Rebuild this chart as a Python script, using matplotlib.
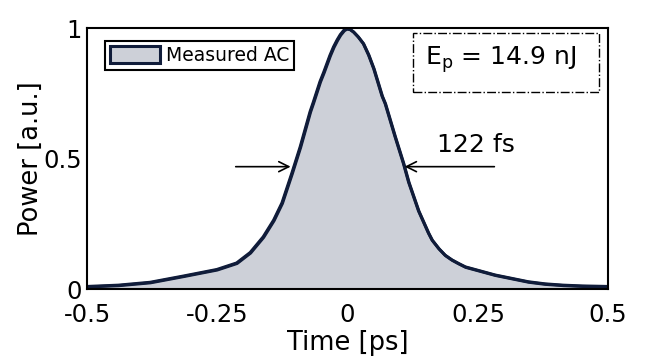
import numpy as np
import matplotlib
matplotlib.use('Agg')
import matplotlib.pyplot as plt
from matplotlib.patches import Rectangle

# Autocorrelation trace
time_ps = [-0.5, -0.44, -0.379, -0.315, -0.251, -0.213, -0.187, -0.162, -0.142,
           -0.126, -0.107, -0.091, -0.072, -0.066, -0.053, -0.046, -0.034, -0.027,
           -0.020, -0.014, -0.007, -0.002, 0.004, 0.011, 0.020, 0.030, 0.040, 0.050,
           0.066, 0.072, 0.091, 0.107, 0.117, 0.136, 0.155, 0.162, 0.175, 0.187,
           0.200, 0.213, 0.226, 0.283, 0.347, 0.379, 0.414, 0.45, 0.5]
power = [0.010, 0.015, 0.026, 0.050, 0.075, 0.100, 0.140, 0.200, 0.264,
         0.330, 0.444, 0.545, 0.680, 0.715, 0.795, 0.830, 0.895, 0.928,
         0.955, 0.975, 0.992, 0.998, 0.996, 0.986, 0.967, 0.941, 0.898, 0.845,
         0.740, 0.711, 0.584, 0.482, 0.410, 0.300, 0.215, 0.188, 0.155, 0.130,
         0.112, 0.098, 0.085, 0.054, 0.028, 0.020, 0.015, 0.012, 0.010]

x_ticks = [-0.5, -0.25, 0, 0.25, 0.5]
x_tick_labels = ['-0.5', '-0.25', '0', '0.25', '0.5']
y_ticks = [0, 0.5, 1]
y_tick_labels = ['0', '0.5', '1']

# FWHM markers
fwhm_level = 0.469
fwhm_left = -0.104
fwhm_right = 0.104
fwhm_label = '122 fs'
energy_label = r'E$_\mathregular{p}$ = 14.9 nJ'

navy = '#101c3a'
fill_col = '#cdd0d8'

plt.rcParams['font.family'] = ['DejaVu Sans']
fig = plt.figure(figsize=(6.72, 3.6), dpi=100)
ax = fig.add_axes([0.1295, 0.197, 0.7755, 0.725])

ax.fill_between(time_ps, power, 0, facecolor=fill_col, edgecolor=navy,
                linewidth=2.2, label='Measured AC')
ax.plot(time_ps, power, color=navy, linewidth=2.2, solid_joinstyle='round')

ax.annotate('', xy=(fwhm_left, fwhm_level), xytext=(-0.22, fwhm_level),
            arrowprops=dict(arrowstyle='->', color='black', lw=1.2, mutation_scale=18))
ax.annotate('', xy=(fwhm_right, fwhm_level), xytext=(0.287, fwhm_level),
            arrowprops=dict(arrowstyle='->', color='black', lw=1.2, mutation_scale=18))
ax.text(0.246, 0.525, fwhm_label, fontsize=18, ha='center', va='baseline')

# pulse energy box
ax.add_patch(Rectangle((0.625, 0.755), 0.358, 0.226, transform=ax.transAxes,
                       facecolor='white', edgecolor='black', linestyle='-.', linewidth=1.0))
ax.text(0.793, 0.858, energy_label, fontsize=18, ha='center', va='baseline',
        transform=ax.transAxes)

leg = ax.legend(loc='upper left', bbox_to_anchor=(0.0345, 0.950), borderaxespad=0,
                fontsize=13.5, fancybox=False, framealpha=1, edgecolor='black',
                handlelength=2.7, handleheight=1.0, borderpad=0.25, handletextpad=0.3)
leg.get_frame().set_linewidth(1.5)

ax.set_xlim(-0.5, 0.5)
ax.set_ylim(0, 1)
ax.set_xticks(x_ticks)
ax.set_xticklabels(x_tick_labels)
ax.set_yticks(y_ticks)
ax.set_yticklabels(y_tick_labels)
ax.tick_params(length=0, labelsize=17.5)
ax.tick_params(axis='x', pad=10)
ax.tick_params(axis='y', pad=3.5)
ax.set_xlabel('Time [ps]', fontsize=18.5, labelpad=2)
ax.set_ylabel('Power [a.u.]', fontsize=18.5, labelpad=0)
for s in ax.spines.values():
    s.set_linewidth(1.5)

fig.savefig('out.png', dpi=100)
